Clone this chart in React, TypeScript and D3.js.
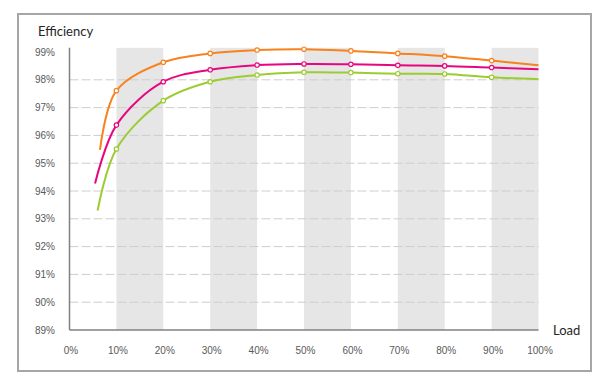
import React from "react";
import * as d3 from "d3";

const loads = [10, 20, 30, 40, 50, 60, 70, 80, 90, 100];
const orangeStart: [number, number] = [6.5, 95.48];
const pinkStart: [number, number] = [5.45, 94.27];
const greenStart: [number, number] = [6.0, 93.3];
const orangeVals = [97.61, 98.63, 98.95, 99.07, 99.1, 99.04, 98.95, 98.85, 98.69, 98.52];
const pinkVals = [96.37, 97.93, 98.36, 98.53, 98.57, 98.56, 98.52, 98.5, 98.44, 98.38];
const greenVals = [95.51, 97.25, 97.93, 98.17, 98.27, 98.26, 98.22, 98.21, 98.09, 98.02];
const yTicks = [89, 90, 91, 92, 93, 94, 95, 96, 97, 98, 99];
const xTicks = [0, 10, 20, 30, 40, 50, 60, 70, 80, 90, 100];
const bands = [[10, 20], [30, 40], [50, 60], [70, 80], [90, 100]];

const series = [
  { name: "orange", color: "#F7821E", start: orangeStart, vals: orangeVals },
  { name: "pink", color: "#E8067F", start: pinkStart, vals: pinkVals },
  { name: "green", color: "#9CCB32", start: greenStart, vals: greenVals },
];

export default function App() {
  const W = 614, H = 382;
  const x = d3.scaleLinear().domain([0, 100]).range([69.5, 538.5]);
  const y = d3.scaleLinear().domain([89, 99]).range([330, 52]);
  const yTop = y(99.15);
  const line = d3
    .line<[number, number]>()
    .x((d) => x(d[0]))
    .y((d) => y(d[1]))
    .curve(d3.curveCatmullRom.alpha(0.5));
  const tickFont = "'Liberation Sans', Arial, sans-serif";
  const titleFont = "Lato, 'Open Sans', sans-serif";
  return (
    <svg width={W} height={H} style={{ position: "absolute", left: 0, top: 0 }}>
      <rect x={0} y={0} width={W} height={H} fill="#fff" />
      <rect x={18} y={14} width={573} height={357} fill="#fff" stroke="#A6A6A6" strokeWidth={2} />
      {bands.map(([a, b], i) => (
        <rect key={i} x={x(a)} y={yTop} width={x(b) - x(a)} height={y(89) - yTop} fill="#E6E6E6" />
      ))}
      {yTicks.filter((t) => t > 89 && t < 99).map((t) => (
        <line key={t} x1={x(0)} x2={x(100)} y1={y(t)} y2={y(t)} stroke="#CDCDCD" strokeWidth={1} strokeDasharray="9,3" />
      ))}
      <line x1={x(0)} x2={x(0)} y1={yTop} y2={y(89)} stroke="#808080" strokeWidth={1.5} />
      <line x1={x(0)} x2={x(100)} y1={y(89)} y2={y(89)} stroke="#808080" strokeWidth={1.5} />
      {yTicks.map((t) => (
        <text key={t} x={55} y={y(t) + 3.5} textAnchor="end" fontSize={10} fill="#595959" fontFamily={tickFont}>
          {t}%
        </text>
      ))}
      {xTicks.map((t) => (
        <text key={t} x={x(t) + 1.5} y={354} textAnchor="middle" fontSize={10} fill="#595959" fontFamily={tickFont}>
          {t}%
        </text>
      ))}
      <text x={38} y={36} fontSize={13} fill="#262626" fontFamily={titleFont}>Efficiency</text>
      <text x={553} y={335} fontSize={13} fill="#262626" fontFamily={titleFont}>Load</text>
      {series.map((s) => {
        const pts: [number, number][] = [s.start, ...loads.map((l, i) => [l, s.vals[i]] as [number, number])];
        return (
          <g key={s.name}>
            <path d={line(pts) || ""} fill="none" stroke={s.color} strokeWidth={2} />
            {loads.slice(0, 9).map((l, i) => (
              <circle key={l} cx={x(l)} cy={y(s.vals[i])} r={2.2} fill="#fff" stroke={s.color} strokeWidth={1.2} />
            ))}
          </g>
        );
      })}
    </svg>
  );
}
